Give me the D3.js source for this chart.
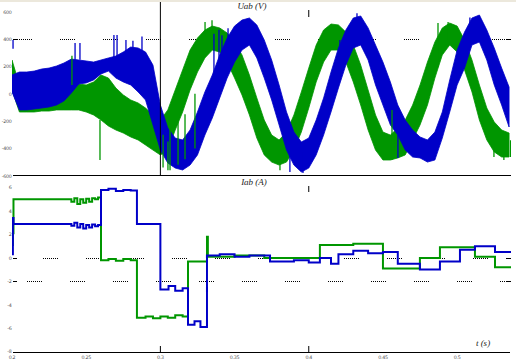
<!DOCTYPE html>
<html>
<head>
<meta charset="utf-8">
<script src="https://cdn.jsdelivr.net/npm/d3@7"></script>
<style>
  html, body { margin: 0; padding: 0; background: #fff; overflow: hidden; }
  svg { display: block; }
  .tick-label { font-family: "DejaVu Sans", sans-serif; font-size: 4.8px; fill: #555; letter-spacing: -0.3px; }
  .title { font-family: "Liberation Serif", serif; font-style: italic; font-size: 9px; fill: #222; }
</style>
</head>
<body>
<svg id="chart" width="516" height="361"></svg>
<script>
// Step 1: data (t in s, Uab in V, Iab in A)
const sampleTime = [
  0.200, 0.205, 0.210, 0.215, 0.220, 0.225, 0.230, 0.235, 0.240, 0.245,
  0.250, 0.255, 0.260, 0.265, 0.270, 0.275, 0.280, 0.285, 0.290, 0.295,
  0.300, 0.305, 0.310, 0.315, 0.320, 0.325, 0.330, 0.335, 0.340, 0.345,
  0.350, 0.355, 0.360, 0.365, 0.370, 0.375, 0.380, 0.385, 0.390, 0.395,
  0.400, 0.405, 0.410, 0.415, 0.420, 0.425, 0.430, 0.435, 0.440, 0.445,
  0.450, 0.455, 0.460, 0.465, 0.470, 0.475, 0.480, 0.485, 0.490, 0.495,
  0.500, 0.505, 0.510, 0.515, 0.520, 0.525, 0.530, 0.535
]

// upper / lower edge of the noisy Uab band
const uabBlueHigh = [
  138, 160, 160, 167, 182, 189, 204, 226, 255, 248,
  241, 233, 248, 263, 277, 307, 343, 336, 307, 211,
  -82, -250, -324, -338, -265, -133, 14, 138, 285, 409,
  497, 541, 556, 505, 395, 248, 65, -133, -280, -353,
  -324, -192, -30, 160, 336, 468, 556, 571, 483, 358,
  233, 87, -82, -192, -265, -316, -338, -280, -133, 102,
  321, 453, 556, 578, 468, 336, 189, 50
]
const uabBlueLow = [
  14, -118, -118, -111, -104, -96, -82, -52, 6, 72,
  80, 102, 146, 167, 116, 87, 65, 14, -45, -228,
  -412, -507, -544, -558, -522, -448, -302, -177, -30, 116,
  233, 321, 358, 263, 116, -45, -228, -412, -522, -573,
  -544, -448, -302, -133, 43, 211, 336, 358, 248, 65,
  -82, -228, -302, -412, -463, -470, -500, -485, -324, -133,
  65, 189, 358, 380, 248, 65, -82, -243
]
const uabGreenHigh = [
  248, 65, 65, 65, 65, 65, 65, 65, 65, 72,
  65, 87, 138, 116, 43, -8, -45, -67, -104, -155,
  -192, -118, 28, 175, 321, 409, 468, 497, 483, 446,
  380, 285, 138, -30, -192, -302, -338, -280, -155, 14,
  189, 358, 468, 512, 505, 453, 358, 211, 28, -155,
  -280, -302, -250, -192, -82, 65, 233, 380, 483, 519,
  497, 395, 248, 65, -104, -206, -265, -287
]
const uabGreenLow = [
  28, -133, -133, -133, -126, -126, -118, -118, -118, -118,
  -133, -155, -192, -236, -265, -287, -316, -338, -375, -412,
  -448, -412, -265, -133, 28, 160, 263, 321, 307, 233,
  116, -8, -155, -324, -448, -500, -522, -500, -412, -280,
  -104, 87, 233, 321, 321, 233, 87, -82, -265, -412,
  -485, -485, -470, -448, -338, -228, -82, 116, 285, 358,
  307, 175, 14, -192, -338, -426, -463, -463
]

// single spikes sticking out of the band: [t, from, to]
const uabBlueSpikes = [
  [0.2007, 395, 330], [0.2425, 373, 250], [0.2458, 373, 250], [0.2687, 431, 270],
  [0.2708, 431, 270], [0.2768, 395, 300], [0.2815, 390, 320], [0.2876, 420, 300],
  [0.3361, 440, 150], [0.3395, 470, 200], [0.3415, 430, 250], [0.3456, 480, 300],
  [0.3873, -420, -573], [0.3961, -420, -580], [0.4210, 395, 250], [0.4325, 590, 450],
  [0.4601, -300, -470], [0.5086, 560, 400]
]
const uabGreenSpikes = [
  [0.2404, 280, 65], [0.2593, -192, -485], [0.3018, -300, -540], [0.3051, -350, -560],
  [0.3065, -250, -560], [0.3119, -200, -520], [0.3166, -150, -480], [0.3233, 0, -400],
  [0.3301, 527, 420], [0.3348, 540, 450], [0.3806, -500, -560], [0.4561, -118, -485],
  [0.4871, 519, 197], [0.4939, 527, 400], [0.5248, -340, -463], [0.5315, -340, -485],
  [0.5360, -340, -463]
]

const iabBlueTime = [
  0.2000, 0.2006, 0.2010, 0.2400, 0.2420, 0.2440, 0.2460, 0.2480, 0.2500, 0.2520,
  0.2540, 0.2560, 0.2580, 0.2600, 0.2650, 0.2700, 0.2750, 0.2800, 0.2842, 0.3000,
  0.3055, 0.3100, 0.3150, 0.3186, 0.3230, 0.3270, 0.3314, 0.3400, 0.3500, 0.3600,
  0.3739, 0.3800, 0.3900, 0.4000, 0.4075, 0.4150, 0.4200, 0.4300, 0.4400, 0.4500,
  0.4600, 0.4749, 0.4884, 0.5019, 0.5120, 0.5255, 0.5363
]
const iabBlueValue = [
  0.3, 3.4, 2.9, 2.75, 3.0, 2.6, 2.9, 2.5, 2.8, 2.6,
  2.85, 2.7, 2.8, 5.8, 5.9, 5.7, 5.8, 5.75, 2.9, -2.7,
  -2.4, -2.8, -2.6, -5.7, -5.4, -5.9, 0.2, 0.3, 0.1, 0.2,
  -0.3, -0.3, -0.2, -0.4, 0.0, -0.5, 0.3, 0.6, 0.4, 0.5,
  -0.5, -1.0, -0.3, 0.7, 1.0, 0.5, 0.5
]
const iabGreenTime = [
  0.2000, 0.2006, 0.2010, 0.2400, 0.2420, 0.2440, 0.2460, 0.2480, 0.2500, 0.2520,
  0.2540, 0.2560, 0.2580, 0.2600, 0.2650, 0.2700, 0.2750, 0.2800, 0.2842, 0.2900,
  0.2950, 0.3000, 0.3050, 0.3100, 0.3150, 0.3186, 0.3314, 0.3320, 0.3500, 0.3700,
  0.4075, 0.4300, 0.4500, 0.4749, 0.4884, 0.5120, 0.5255, 0.5363
]
const iabGreenValue = [
  1.1, 2.1, 5.0, 4.8, 5.1, 4.6, 5.0, 4.7, 5.05, 4.8,
  5.1, 5.0, 5.15, -0.2, -0.1, -0.25, -0.1, -0.2, -5.1, -5.0,
  -5.15, -5.0, -5.1, -4.9, -5.0, -0.3, 1.8, 0.1, 0.2, 0.0,
  1.1, 1.2, -0.9, 0.0, 0.9, 0.1, -0.8, -0.8
]

const timeTicks = [0.2, 0.25, 0.3, 0.35, 0.4, 0.45, 0.5]
const uabTicks = [600, 400, 200, 0, -200, -400, -600]
const iabTicks = [6, 4, 2, 0, -2, -4, -6, -8]
const uabGrid = [400]
const iabGrid = [0, -2]

const blue = "#0000c8"
const green = "#009600"

// Step 2: scales
const left = 12, right = 511
const xScale = d3.scaleLinear().domain([0.2, 0.5363]).range([left, right])
const yUab = d3.scaleLinear().domain([-600, 600]).range([175.7, 12])
const yIab = d3.scaleLinear().domain([-8, 6]).range([351.6, 187.6])

const svg = d3.select("#chart")

svg.append("rect").attr("width", 516).attr("height", 361).attr("fill", "#fff")
svg.append("rect").attr("width", 516).attr("height", 2).attr("fill", "#ece8dc")

const defs = svg.append("defs")
defs.append("clipPath").attr("id", "clipTop")
    .append("rect").attr("x", left).attr("y", 2).attr("width", right - left).attr("height", 173.5)
defs.append("clipPath").attr("id", "clipBottom")
    .append("rect").attr("x", left).attr("y", 176.5).attr("width", right - left).attr("height", 175)

// Step 3: grid lines, ticks and labels
const dots = "1,1,1,1,1,1,1,1,1,1,1,1,1,1,1,28"

function gridLine(y, offset) {
    svg.append("line")
        .attr("x1", left + 5).attr("x2", right - 5)
        .attr("y1", y).attr("y2", y)
        .attr("stroke", "#000").attr("stroke-width", 1)
        .attr("stroke-dasharray", dots)
        .attr("stroke-dashoffset", offset)
    svg.append("line").attr("x1", left + 1).attr("x2", left + 5).attr("y1", y).attr("y2", y)
        .attr("stroke", "#000").attr("stroke-width", 1)
    svg.append("line").attr("x1", right - 5).attr("x2", right).attr("y1", y).attr("y2", y)
        .attr("stroke", "#000").attr("stroke-width", 1)
}

uabGrid.forEach(v => gridLine(Math.round(yUab(v)) + 0.5, 0))
iabGrid.forEach((v, i) => gridLine(Math.round(yIab(v)) + 0.5, i === 0 ? -26 : -10))

svg.selectAll(".uab-label").data(uabTicks).join("text")
    .attr("class", "tick-label")
    .attr("x", 11.5).attr("y", d => yUab(d) + 1.8)
    .attr("text-anchor", "end")
    .text(d => d)

svg.selectAll(".iab-label").data(iabTicks).join("text")
    .attr("class", "tick-label")
    .attr("x", 11.5).attr("y", d => yIab(d) + 1.8)
    .attr("text-anchor", "end")
    .text(d => d)

svg.selectAll(".t-label").data(timeTicks).join("text")
    .attr("class", "tick-label")
    .attr("x", d => xScale(d)).attr("y", 359)
    .attr("text-anchor", "middle")
    .text(d => d)

// Step 4: the Uab bands
const band = (hi, lo) => d3.area()
    .x((d, i) => xScale(sampleTime[i]))
    .y0((d, i) => yUab(lo[i]))
    .y1((d, i) => yUab(hi[i]))

const topPanel = svg.append("g").attr("clip-path", "url(#clipTop)")

topPanel.append("path")
    .datum(uabGreenHigh)
    .attr("d", band(uabGreenHigh, uabGreenLow))
    .attr("fill", green).attr("stroke", green).attr("stroke-width", 0.8)

topPanel.append("path")
    .datum(uabBlueHigh)
    .attr("d", band(uabBlueHigh, uabBlueLow))
    .attr("fill", blue).attr("stroke", blue).attr("stroke-width", 0.8)

topPanel.selectAll(".gspike").data(uabGreenSpikes).join("line")
    .attr("x1", d => xScale(d[0])).attr("x2", d => xScale(d[0]))
    .attr("y1", d => yUab(d[1])).attr("y2", d => yUab(d[2]))
    .attr("stroke", green).attr("stroke-width", 1.3)

topPanel.selectAll(".bspike").data(uabBlueSpikes).join("line")
    .attr("x1", d => xScale(d[0])).attr("x2", d => xScale(d[0]))
    .attr("y1", d => yUab(d[1])).attr("y2", d => yUab(d[2]))
    .attr("stroke", blue).attr("stroke-width", 1.3)

// Step 5: the Iab steps
const bottomPanel = svg.append("g").attr("clip-path", "url(#clipBottom)")

const stepLine = (times) => d3.line()
    .curve(d3.curveStepAfter)
    .x((d, i) => xScale(times[i]))
    .y(d => yIab(d))

bottomPanel.append("path")
    .datum(iabGreenValue)
    .attr("d", stepLine(iabGreenTime))
    .attr("fill", "none").attr("stroke", green).attr("stroke-width", 2)

bottomPanel.append("path")
    .datum(iabBlueValue)
    .attr("d", stepLine(iabBlueTime))
    .attr("fill", "none").attr("stroke", blue).attr("stroke-width", 2)

// Step 6: frame lines, cursor and titles
svg.append("line").attr("x1", left + 1).attr("x2", right).attr("y1", 175.5).attr("y2", 175.5)
    .attr("stroke", "#000").attr("stroke-width", 1.2)
svg.append("line").attr("x1", left + 1).attr("x2", right - 1).attr("y1", 352.5).attr("y2", 352.5)
    .attr("stroke", "#000").attr("stroke-width", 1.2)

svg.append("line").attr("x1", xScale(0.3)).attr("x2", xScale(0.3)).attr("y1", 2).attr("y2", 175)
    .attr("stroke", "#000").attr("stroke-width", 1)

const marks = [[0.4, 10, 17], [0.4, 186, 192], [0.3, 346, 352], [0.4, 346, 352]]
svg.selectAll(".mark").data(marks).join("line")
    .attr("x1", d => xScale(d[0])).attr("x2", d => xScale(d[0]))
    .attr("y1", d => d[1]).attr("y2", d => d[2])
    .attr("stroke", "#000").attr("stroke-width", 1)

svg.append("text").attr("class", "title").attr("x", 252).attr("y", 9)
    .attr("text-anchor", "middle").text("Uab (V)")
svg.append("text").attr("class", "title").attr("x", 254).attr("y", 185)
    .attr("text-anchor", "middle").text("Iab (A)")
svg.append("text").attr("class", "title").attr("x", 483).attr("y", 346)
    .attr("text-anchor", "middle").text("t (s)")
</script>
</body>
</html>
